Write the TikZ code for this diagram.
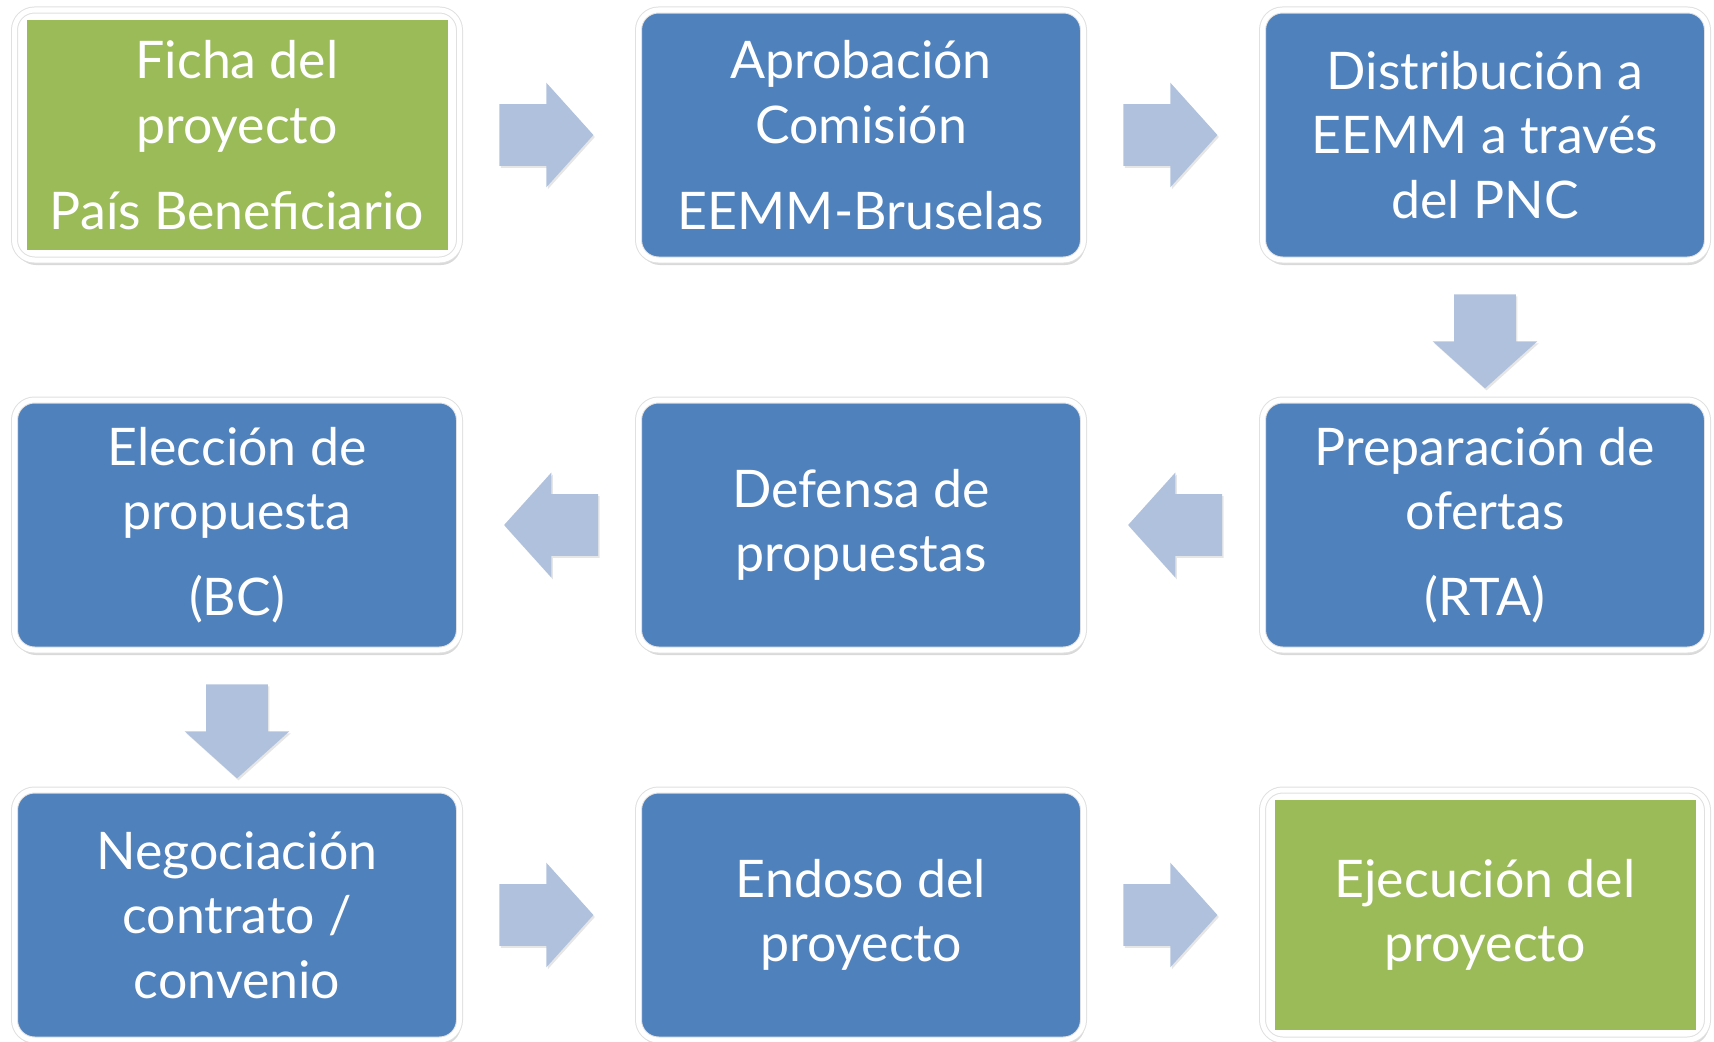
\documentclass[tikz,border=0pt]{standalone}
\usepackage{fontspec}
\setmainfont{Lato}
\usetikzlibrary{shapes.arrows,shadows,calc}
\definecolor{boxblue}{HTML}{4F81BD}
\definecolor{boxgreen}{HTML}{9BBB59}
\definecolor{arrowblue}{HTML}{B0C1DD}

\begin{document}
\begin{tikzpicture}[
  stepbox/.style={rounded corners=0.4cm, fill=boxblue, draw=black!12, double=white,
    double distance=0.1cm, line width=0.02cm,
    minimum width=8.9cm, minimum height=5cm, text=white, align=center,
    font=\fontsize{29.5}{36.7}\selectfont,
    drop shadow={shadow xshift=0.03cm, shadow yshift=-0.1cm, opacity=0.3}},
  greenbox/.style={stepbox, fill=white,
    path picture={\fill[boxgreen, sharp corners] ($(path picture bounding box.south west)+(0.24,0.2)$)
      rectangle ($(path picture bounding box.north east)-(0.24,0.2)$);}},
  blockarrow/.style={single arrow, fill=arrowblue, draw=none, inner sep=0.61cm,
    single arrow head extend=0.43cm, single arrow tip angle=96, single arrow head indent=0cm,
    minimum height=1.88cm,
    drop shadow={shadow xshift=0.03cm, shadow yshift=-0.04cm, opacity=0.2}},
  rightarrow/.style={blockarrow, xshift=-0.33cm},
  leftarrow/.style={blockarrow, shape border rotate=180, xshift=0.32cm},
  downarrow/.style={blockarrow, shape border rotate=270, yshift=0.05cm},
]
\useasboundingbox (0,0) rectangle (34.28,-20.84);
% boxes
\node[greenbox] (ficha) at (4.74,-2.70) {Ficha del\\proyecto\\[0.43cm]País Beneficiario};
\node[stepbox] (aprob) at (17.22,-2.70) {Aprobación\\Comisión\\[0.43cm]EEMM-Bruselas};
\node[stepbox] (distrib) at (29.70,-2.70) {Distribución a\\EEMM a través\\del PNC};
\node[stepbox] (prep) at (29.70,-10.50) {Preparación de\\ofertas\\[0.43cm](RTA)};
\node[stepbox] (defensa) at (17.22,-10.50) {Defensa de\\propuestas};
\node[stepbox] (eleccion) at (4.74,-10.50) {Elección de\\propuesta\\[0.43cm](BC)};
\node[stepbox] (negoc) at (4.74,-18.30) {Negociación\\contrato /\\convenio};
\node[stepbox] (endoso) at (17.22,-18.30) {Endoso del\\proyecto};
\node[greenbox] (ejec) at (29.70,-18.30) {Ejecución del\\proyecto};
% arrows
\node[rightarrow] (a1) at ($(ficha.east)!0.5!(aprob.west)$) {};
\node[rightarrow] (a2) at ($(aprob.east)!0.5!(distrib.west)$) {};
\node[downarrow] (a3) at ($(distrib.south)!0.5!(prep.north)$) {};
\node[leftarrow] (a4) at ($(prep.west)!0.5!(defensa.east)$) {};
\node[leftarrow] (a5) at ($(defensa.west)!0.5!(eleccion.east)$) {};
\node[downarrow] (a6) at ($(eleccion.south)!0.5!(negoc.north)$) {};
\node[rightarrow] (a7) at ($(negoc.east)!0.5!(endoso.west)$) {};
\node[rightarrow] (a8) at ($(endoso.east)!0.5!(ejec.west)$) {};
\end{tikzpicture}
\end{document}
